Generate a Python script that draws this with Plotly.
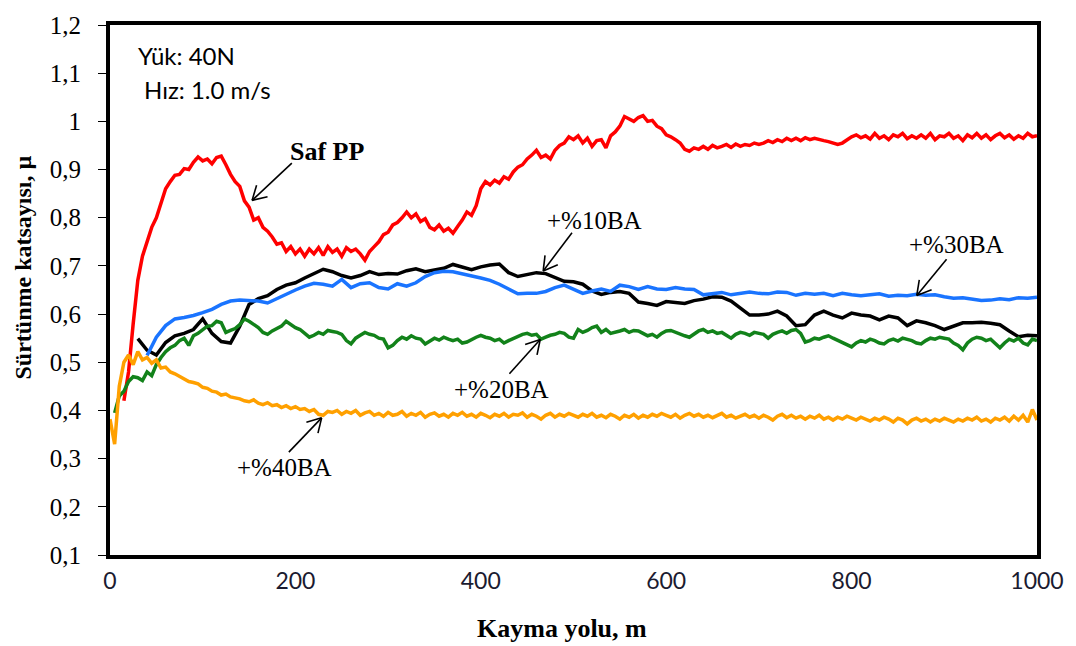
import math
import numpy as np
import plotly.graph_objects as go

# ---------------- data ----------------
# Saf PP : 15 .. 1000 m, every 5 m
saf_pp = [
    0.42, 0.48, 0.58, 0.67, 0.72, 0.75, 0.78, 0.80, 0.83, 0.86,          # 15-60
    0.875, 0.888, 0.89, 0.902, 0.90, 0.915, 0.926, 0.918, 0.922, 0.912,  # 65-110
    0.925, 0.928, 0.91, 0.89, 0.875, 0.865, 0.835, 0.822, 0.795, 0.80,   # 115-160
    0.78, 0.772, 0.76, 0.745, 0.748, 0.73, 0.74, 0.725, 0.735, 0.72,     # 165-210
    0.735, 0.725, 0.738, 0.722, 0.74, 0.728, 0.735, 0.72, 0.738, 0.73,   # 215-260
    0.735, 0.725, 0.712, 0.73, 0.74, 0.75, 0.765, 0.77, 0.785, 0.79,     # 265-310
    0.80, 0.812, 0.80, 0.808, 0.792, 0.798, 0.78, 0.775, 0.785, 0.772,   # 315-360
    0.778, 0.768, 0.782, 0.795, 0.812, 0.805, 0.825, 0.86, 0.875, 0.868, # 365-410
    0.878, 0.872, 0.885, 0.88, 0.895, 0.905, 0.91, 0.922, 0.93, 0.94,    # 415-460
    0.925, 0.93, 0.922, 0.94, 0.95, 0.955, 0.968, 0.962, 0.97, 0.955,    # 465-510
    0.965, 0.948, 0.96, 0.962, 0.945, 0.97, 0.978, 0.99, 1.01, 1.005,    # 515-560
    1.0, 1.008, 1.012, 1.0, 1.002, 0.99, 0.985, 0.972, 0.968, 0.962,     # 565-610
    0.955, 0.942, 0.938, 0.945, 0.942, 0.948, 0.942, 0.95, 0.945, 0.948, # 615-660
    0.952, 0.946, 0.953, 0.948, 0.952, 0.95, 0.955, 0.952, 0.955, 0.96,  # 665-710
    0.956, 0.962, 0.958, 0.965, 0.96, 0.965, 0.96, 0.966, 0.962, 0.965,  # 715-760
    0.962, 0.96, 0.958, 0.955, 0.952, 0.955, 0.962, 0.968, 0.972, 0.966, # 765-810
    0.97, 0.963, 0.975, 0.965, 0.97, 0.962, 0.972, 0.968, 0.975, 0.964,  # 815-860
    0.97, 0.965, 0.972, 0.965, 0.975, 0.962, 0.97, 0.968, 0.975, 0.965,  # 865-910
    0.97, 0.96, 0.972, 0.966, 0.975, 0.965, 0.972, 0.962, 0.97, 0.975,   # 915-960
    0.966, 0.972, 0.963, 0.97, 0.965, 0.975, 0.968, 0.97,                # 965-1000
]
saf_pp_start, saf_pp_end = 15, 1000

# +%10BA : 30 .. 1000 m, every 10 m
ba10 = [
    0.549, 0.525, 0.515, 0.541, 0.555, 0.56, 0.568, 0.59, 0.56, 0.543,     # 30-120
    0.54, 0.575, 0.62, 0.632, 0.638, 0.651, 0.66, 0.665, 0.675, 0.684,     # 130-220
    0.693, 0.688, 0.68, 0.675, 0.68, 0.688, 0.682, 0.684, 0.683, 0.69,     # 230-320
    0.694, 0.688, 0.692, 0.695, 0.703, 0.698, 0.692, 0.698, 0.702, 0.704,  # 330-420
    0.686, 0.678, 0.682, 0.686, 0.684, 0.675, 0.668, 0.667, 0.662, 0.648,  # 430-520
    0.641, 0.645, 0.647, 0.643, 0.625, 0.622, 0.618, 0.626, 0.624, 0.622,  # 530-620
    0.628, 0.631, 0.636, 0.635, 0.627, 0.613, 0.598, 0.598, 0.60, 0.606,   # 630-720
    0.596, 0.576, 0.578, 0.598, 0.606, 0.598, 0.592, 0.602, 0.598, 0.596,  # 730-820
    0.588, 0.596, 0.592, 0.576, 0.586, 0.582, 0.576, 0.568, 0.575, 0.582,  # 830-920
    0.582, 0.583, 0.581, 0.578, 0.565, 0.553, 0.556, 0.555,                # 930-1000
]
ba10_start, ba10_end = 30, 1000

# +%30BA : 40 .. 1000 m, every 10 m
ba30 = [
    0.514, 0.552, 0.576, 0.59, 0.593, 0.597, 0.603, 0.61, 0.62, 0.627,     # 40-130
    0.629, 0.628, 0.627, 0.623, 0.632, 0.642, 0.65, 0.658, 0.664, 0.662,   # 140-230
    0.658, 0.672, 0.655, 0.663, 0.665, 0.655, 0.652, 0.663, 0.658, 0.665,  # 240-330
    0.678, 0.686, 0.689, 0.688, 0.684, 0.68, 0.675, 0.67, 0.662, 0.652,    # 340-430
    0.642, 0.643, 0.643, 0.647, 0.655, 0.66, 0.652, 0.643, 0.648, 0.652,   # 440-530
    0.647, 0.66, 0.657, 0.651, 0.657, 0.652, 0.651, 0.655, 0.652, 0.651,   # 540-630
    0.64, 0.642, 0.645, 0.64, 0.643, 0.646, 0.643, 0.642, 0.646, 0.645,    # 640-730
    0.639, 0.643, 0.641, 0.643, 0.638, 0.643, 0.64, 0.638, 0.64, 0.642,    # 740-830
    0.637, 0.639, 0.638, 0.641, 0.639, 0.64, 0.636, 0.633, 0.634, 0.631,   # 840-930
    0.628, 0.629, 0.632, 0.63, 0.634, 0.633, 0.635,                        # 940-1000
]
ba30_start, ba30_end = 40, 1000

# +%20BA : 5 .. 1000 m, every 5 m
ba20 = [
    0.395, 0.43, 0.44, 0.46, 0.47, 0.468, 0.462, 0.48, 0.472, 0.495,       # 5-50
    0.51, 0.522, 0.53, 0.535, 0.545, 0.55, 0.535, 0.555, 0.56, 0.568,      # 55-100
    0.575, 0.576, 0.585, 0.582, 0.562, 0.566, 0.57, 0.578, 0.59, 0.585,    # 105-150
    0.578, 0.572, 0.562, 0.558, 0.565, 0.57, 0.575, 0.585, 0.578, 0.572,   # 155-200
    0.568, 0.56, 0.552, 0.556, 0.562, 0.558, 0.566, 0.564, 0.562, 0.558,   # 205-250
    0.545, 0.538, 0.55, 0.556, 0.562, 0.558, 0.556, 0.55, 0.548, 0.53,     # 255-300
    0.535, 0.545, 0.552, 0.548, 0.555, 0.55, 0.548, 0.538, 0.545, 0.55,    # 305-350
    0.546, 0.552, 0.548, 0.545, 0.548, 0.54, 0.542, 0.548, 0.552, 0.556,   # 355-400
    0.552, 0.55, 0.545, 0.548, 0.54, 0.545, 0.55, 0.555, 0.558, 0.56,      # 405-450
    0.556, 0.558, 0.548, 0.552, 0.556, 0.558, 0.562, 0.56, 0.552, 0.55,    # 455-500
    0.568, 0.562, 0.566, 0.572, 0.575, 0.562, 0.568, 0.56, 0.562, 0.565,   # 505-550
    0.568, 0.562, 0.566, 0.565, 0.56, 0.555, 0.558, 0.552, 0.56, 0.565,    # 555-600
    0.566, 0.562, 0.558, 0.555, 0.552, 0.558, 0.565, 0.568, 0.562, 0.565,  # 605-650
    0.56, 0.562, 0.556, 0.55, 0.558, 0.562, 0.56, 0.556, 0.562, 0.56,      # 655-700
    0.558, 0.55, 0.558, 0.562, 0.565, 0.56, 0.566, 0.568, 0.56, 0.542,     # 705-750
    0.545, 0.55, 0.548, 0.552, 0.555, 0.55, 0.545, 0.54, 0.535, 0.532,     # 755-800
    0.54, 0.545, 0.542, 0.548, 0.545, 0.54, 0.538, 0.545, 0.548, 0.544,    # 805-850
    0.55, 0.548, 0.545, 0.54, 0.538, 0.545, 0.55, 0.548, 0.552, 0.55,      # 855-900
    0.548, 0.54, 0.535, 0.526, 0.54, 0.548, 0.552, 0.55, 0.545, 0.548,     # 905-950
    0.54, 0.53, 0.54, 0.548, 0.544, 0.55, 0.54, 0.536, 0.548, 0.545,       # 955-1000
]
ba20_start, ba20_end = 5, 1000

# +%40BA : 0 .. 1000 m, every 5 m
ba40 = [
    0.382,
    0.33, 0.45, 0.5, 0.515, 0.495, 0.522, 0.505, 0.51, 0.498, 0.505,       # 5-50
    0.488, 0.49, 0.48, 0.476, 0.47, 0.465, 0.46, 0.458, 0.455, 0.448,      # 55-100
    0.446, 0.44, 0.438, 0.432, 0.434, 0.428, 0.426, 0.424, 0.42, 0.418,    # 105-150
    0.422, 0.415, 0.412, 0.416, 0.41, 0.412, 0.406, 0.41, 0.404, 0.408,    # 155-200
    0.402, 0.404, 0.398, 0.402, 0.392, 0.39, 0.398, 0.396, 0.4, 0.392,     # 205-250
    0.398, 0.394, 0.4, 0.39, 0.395, 0.398, 0.39, 0.394, 0.388, 0.396,      # 255-300
    0.39, 0.392, 0.398, 0.388, 0.394, 0.39, 0.396, 0.386, 0.392, 0.395,    # 305-350
    0.388, 0.392, 0.386, 0.394, 0.39, 0.396, 0.388, 0.392, 0.386, 0.394,   # 355-400
    0.39, 0.385, 0.392, 0.388, 0.394, 0.386, 0.392, 0.39, 0.395, 0.386,    # 405-450
    0.392, 0.388, 0.382, 0.39, 0.394, 0.386, 0.392, 0.388, 0.394, 0.39,    # 455-500
    0.386, 0.392, 0.388, 0.394, 0.386, 0.39, 0.385, 0.392, 0.388, 0.382,   # 505-550
    0.39, 0.386, 0.392, 0.384, 0.39, 0.386, 0.392, 0.388, 0.394, 0.39,     # 555-600
    0.386, 0.392, 0.384, 0.39, 0.394, 0.388, 0.392, 0.386, 0.39, 0.385,    # 605-650
    0.39, 0.394, 0.386, 0.39, 0.384, 0.388, 0.392, 0.386, 0.39, 0.384,     # 655-700
    0.39, 0.386, 0.38, 0.388, 0.392, 0.385, 0.39, 0.384, 0.388, 0.382,     # 705-750
    0.388, 0.384, 0.39, 0.382, 0.386, 0.38, 0.386, 0.382, 0.388, 0.384,    # 755-800
    0.38, 0.386, 0.382, 0.378, 0.384, 0.38, 0.386, 0.382, 0.376, 0.384,    # 805-850
    0.38, 0.372, 0.38, 0.384, 0.378, 0.382, 0.376, 0.382, 0.378, 0.384,    # 855-900
    0.38, 0.376, 0.382, 0.378, 0.384, 0.38, 0.386, 0.378, 0.382, 0.376,    # 905-950
    0.384, 0.38, 0.386, 0.378, 0.388, 0.38, 0.39, 0.376, 0.402, 0.38,      # 955-1000
]
ba40_start, ba40_end = 0, 1000

x_ticks = [0, 200, 400, 600, 800, 1000]
y_ticks = [0.1, 0.2, 0.3, 0.4, 0.5, 0.6, 0.7, 0.8, 0.9, 1.0, 1.1, 1.2]
y_tick_text = ["0,1", "0,2", "0,3", "0,4", "0,5", "0,6", "0,7", "0,8", "0,9", "1", "1,1", "1,2"]

# ---------------- figure ----------------
FW, FH = 1076, 646
L, R, T, B = 110, 33, 14, 91
PW, PH = FW - L - R, FH - T - B

def px(x):
    return (x - L) / PW

def py(y):
    return (FH - B - y) / PH

SERIF = "Liberation Serif"
SANS = "Lato"

series = [
    (saf_pp, saf_pp_start, saf_pp_end, "#FF0000", "Saf PP"),
    (ba10, ba10_start, ba10_end, "#000000", "+%10BA"),
    (ba30, ba30_start, ba30_end, "#1A74FF", "+%30BA"),
    (ba20, ba20_start, ba20_end, "#12821A", "+%20BA"),
    (ba40, ba40_start, ba40_end, "#FFA000", "+%40BA"),
]

fig = go.Figure()
for vals, s, e, col, name in series:
    fig.add_trace(go.Scatter(
        x=np.linspace(s, e, len(vals)), y=vals, mode="lines", name=name,
        line=dict(color=col, width=3.5), showlegend=False, hoverinfo="skip"))

fig.update_layout(
    width=FW, height=FH,
    margin=dict(l=L, r=R, t=T, b=B),
    paper_bgcolor="white", plot_bgcolor="white",
    showlegend=False,
    font=dict(family=SERIF, color="black"),
)
fig.update_xaxes(
    range=[0, 1000], tickvals=x_ticks, ticktext=[str(v) for v in x_ticks],
    showgrid=False, zeroline=False, showline=True, linecolor="black", linewidth=4,
    mirror=True, ticks="", ticklabelstandoff=2,
    tickfont=dict(family=SANS, size=23, color="#1b1b30"),
)
fig.update_yaxes(
    range=[0.1, 1.2], tickvals=y_ticks, ticktext=y_tick_text,
    showgrid=False, zeroline=False, showline=True, linecolor="black", linewidth=4,
    mirror=True, ticks="outside", ticklen=8, tickwidth=1, tickcolor="black",
    ticklabelstandoff=12,
    tickfont=dict(family=SERIF, size=25, color="black"),
)

ann = []
# axis titles
ann.append(dict(x=px(565), y=py(630), xref="paper", yref="paper", text="<b>Kayma yolu, m</b>",
                showarrow=False, xanchor="center", yanchor="middle",
                font=dict(family=SERIF, size=26, color="black")))
ann.append(dict(x=px(22), y=py(262), xref="paper", yref="paper", text="<b>Sürtünme katsayısı, µ</b>",
                showarrow=False, xanchor="center", yanchor="middle", textangle=-90,
                font=dict(family=SERIF, size=24, color="black")))
# test conditions
ann.append(dict(x=px(136), y=py(45), xref="paper", yref="paper", text="Yük: 40N",
                showarrow=False, xanchor="left", yanchor="middle",
                font=dict(family=SANS, size=24, color="black")))
ann.append(dict(x=px(142), y=py(80), xref="paper", yref="paper", text="Hız: 1.0 m/s",
                showarrow=False, xanchor="left", yanchor="middle",
                font=dict(family=SANS, size=24, color="black")))
# series labels
labels = [
    ("<b>Saf PP</b>", 289, 143, 26),
    ("+%10BA", 548, 214, 25),
    ("+%20BA", 454, 386, 25),
    ("+%30BA", 912, 238, 25),
    ("+%40BA", 236, 466, 25),
]
for txt, lx, ly, fs in labels:
    ann.append(dict(x=px(lx), y=py(ly), xref="paper", yref="paper", text=txt,
                    showarrow=False, xanchor="left", yanchor="middle",
                    font=dict(family=SERIF, size=fs, color="black")))
fig.update_layout(annotations=ann)

# arrows with open V heads (tail -> tip, in pixel space)
arrows = [
    ((293, 155), (253, 193)),
    ((575, 226), (546, 265)),
    ((512, 370), (543, 335)),
    ((952, 253), (922, 290)),
    ((290, 450), (323, 415)),
]
shapes = []
def seg(p, q):
    return dict(type="line", xref="paper", yref="paper",
                x0=px(p[0]), y0=py(p[1]), x1=px(q[0]), y1=py(q[1]),
                line=dict(color="black", width=1.6))
for tail, tip in arrows:
    shapes.append(seg(tail, tip))
    dx, dy = tail[0] - tip[0], tail[1] - tip[1]
    d = math.hypot(dx, dy)
    ux, uy = dx / d, dy / d
    for sgn in (1, -1):
        a = math.radians(30 * sgn)
        hx = ux * math.cos(a) - uy * math.sin(a)
        hy = ux * math.sin(a) + uy * math.cos(a)
        shapes.append(seg(tip, (tip[0] + 16 * hx, tip[1] + 16 * hy)))
fig.update_layout(shapes=shapes)

fig.write_html("out.html")
